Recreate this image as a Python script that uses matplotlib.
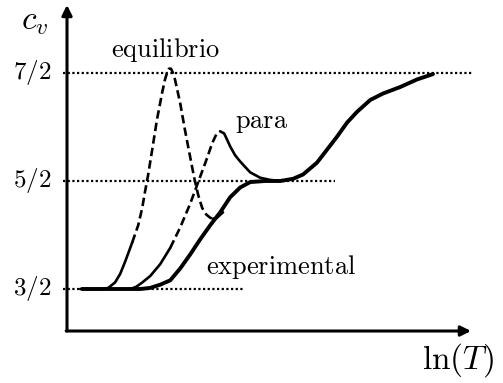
import matplotlib
matplotlib.use("Agg")
import matplotlib.pyplot as plt

plt.rcParams["mathtext.fontset"] = "cm"

# ln(T) in arbitrary units, c_v in units of k_B
exp_x = [0.38, 1.08, 1.83, 2.08, 2.33, 2.58, 2.83, 3.08, 3.33, 3.58, 3.83, 4.08, 4.33, 4.58,
         4.95, 5.33, 5.65, 5.90, 6.25, 6.50, 6.75, 7.00, 7.25, 7.58, 7.90, 8.33, 8.75, 9.15]
exp_cv = [1.50, 1.50, 1.50, 1.51, 1.54, 1.58, 1.69, 1.82, 1.96, 2.09, 2.21, 2.35, 2.44, 2.49,
          2.50, 2.50, 2.52, 2.56, 2.67, 2.79, 2.91, 3.04, 3.14, 3.25, 3.31, 3.37, 3.44, 3.49]

eq_x = [0.33, 0.88, 1.03, 1.20, 1.33, 1.45, 1.63, 1.78, 1.88, 1.95, 2.03, 2.13, 2.25, 2.38,
        2.45, 2.50, 2.55, 2.60, 2.65, 2.70, 2.83, 2.95, 3.08, 3.18, 3.28, 3.38, 3.48, 3.58,
        3.65, 3.75, 3.90]
eq_cv = [1.50, 1.50, 1.51, 1.56, 1.64, 1.75, 1.93, 2.09, 2.25, 2.40, 2.56, 2.79, 3.07, 3.32,
         3.44, 3.50, 3.54, 3.54, 3.50, 3.44, 3.22, 2.97, 2.72, 2.53, 2.37, 2.25, 2.19, 2.16,
         2.15, 2.16, 2.21]

para_x = [1.58, 1.73, 1.88, 2.08, 2.33, 2.58, 2.83, 3.08, 3.28, 3.48, 3.63, 3.73, 3.83,
          3.93, 4.08, 4.20, 4.33, 4.58, 4.83, 5.08, 5.33]
para_cv = [1.50, 1.52, 1.56, 1.62, 1.73, 1.88, 2.07, 2.29, 2.49, 2.69, 2.85, 2.93, 2.96,
           2.94, 2.82, 2.74, 2.68, 2.58, 2.53, 2.51, 2.50]

# horizontal reference levels and how far each one runs
levels = [1.5, 2.5, 3.5]
level_labels = ["3/2", "5/2", "7/2"]
level_ends = [4.45, 6.70, 10.13]

fig = plt.figure(figsize=(5.03, 3.83), dpi=100)
ax = fig.add_axes([0, 0, 1, 1])
ax.set_xlim(-1.675, 10.9)
ax.set_ylim(0.6296, 4.1759)
ax.axis("off")

for lev, lab, xe in zip(levels, level_labels, level_ends):
    ax.plot([-0.1, xe], [lev, lev], color="k", lw=1.6, linestyle=(0, (1, 1.1)))
    ax.text(-0.875, lev, "$" + lab + "$", fontsize=18, ha="center", va="center")

# axes with arrow heads
arrow = dict(arrowstyle="-|>,head_length=0.4,head_width=0.2", lw=2.2,
             color="k", mutation_scale=15, shrinkA=0, shrinkB=0)
ax.annotate("", xy=(0, 4.13), xytext=(0, 1.111), arrowprops=arrow)
ax.annotate("", xy=(10.1, 1.111), xytext=(-0.02, 1.111), arrowprops=arrow)

dash = (3.2, 1.6)
thin = dict(color="k", lw=1.9, solid_capstyle="round", solid_joinstyle="round")

# equilibrium: solid foot, dashed body, solid tail
ax.plot(eq_x[:7], eq_cv[:7], **thin)
ax.plot(eq_x[6:29], eq_cv[6:29], color="k", lw=1.9, dashes=dash)
ax.plot(eq_x[28:], eq_cv[28:], **thin)

# para-hydrogen
ax.plot(para_x[:6], para_cv[:6], **thin)
ax.plot(para_x[5:13], para_cv[5:13], color="k", lw=1.9, dashes=dash)
ax.plot(para_x[12:], para_cv[12:], **thin)

# experimental curve
ax.plot(exp_x, exp_cv, color="k", lw=2.8, solid_capstyle="round",
        solid_joinstyle="round")

ax.text(2.45, 3.71, r"$\mathrm{equilibrio}$", fontsize=19, ha="center", va="center")
ax.text(4.875, 3.046, r"$\mathrm{para}$", fontsize=19, ha="center", va="center")
ax.text(5.35, 1.70, r"$\mathrm{experimental}$", fontsize=19, ha="center", va="center")
ax.text(9.775, 0.843, r"$\ln(T)$", fontsize=24, ha="center", va="center")
ax.text(-0.8, 3.99, r"$c_v$", fontsize=24, ha="center", va="center")

fig.savefig("out.png", dpi=100)
